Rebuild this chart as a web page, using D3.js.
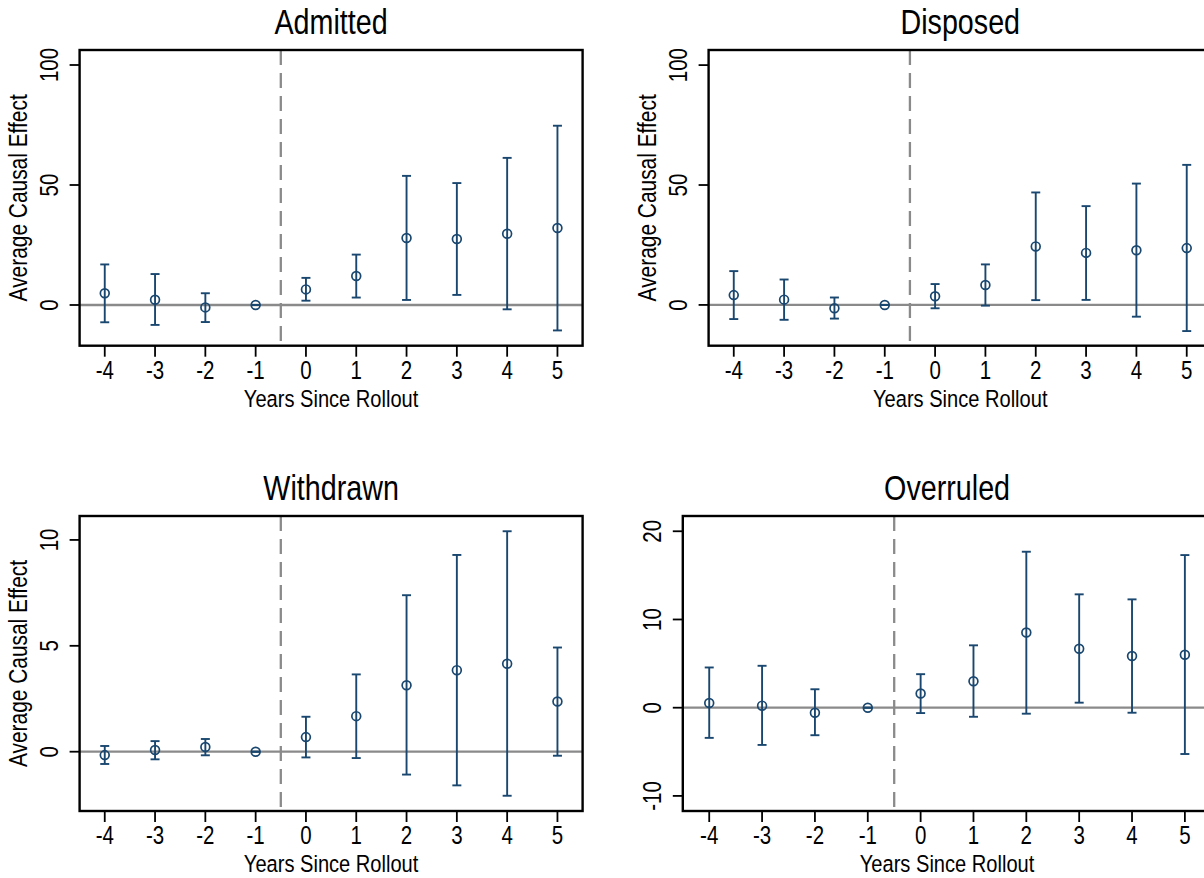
<!DOCTYPE html>
<html>
<head>
<meta charset="utf-8">
<script src="https://cdn.jsdelivr.net/npm/d3@7"></script>
<style>
  html, body { margin: 0; padding: 0; background: #fff; }
  svg { display: block; }
  text { font-family: "Liberation Sans", Arial, Helvetica, sans-serif; fill: #000; }
</style>
</head>
<body>
<svg id="chart" width="1204" height="878"></svg>
<script>
// ---------------- DATA ----------------
const years = [-4, -3, -2, -1, 0, 1, 2, 3, 4, 5];
const xTickLabels = ["-4", "-3", "-2", "-1", "0", "1", "2", "3", "4", "5"];
const xAxisTitle = "Years Since Rollout";
const yAxisTitle = "Average Causal Effect";
const rolloutLine = -0.5;

const titles = ["Admitted", "Disposed", "Withdrawn", "Overruled"];

const admittedEst = [4.9, 2.2, -1.0, 0, 6.5, 12.1, 27.9, 27.5, 29.7, 32.1];
const admittedLo  = [-7.2, -8.3, -7.1, 0, 1.8, 3.1, 2.1, 4.2, -1.8, -10.6];
const admittedHi  = [16.9, 12.9, 4.9, 0, 11.3, 21.0, 53.8, 50.8, 61.3, 74.7];

const disposedEst = [4.1, 2.2, -1.4, 0, 3.6, 8.3, 24.4, 21.7, 22.8, 23.7];
const disposedLo  = [-5.9, -6.2, -5.7, 0, -1.4, -0.3, 2.0, 2.1, -4.9, -10.9];
const disposedHi  = [14.1, 10.6, 3.1, 0, 8.7, 16.9, 46.9, 41.2, 50.6, 58.4];

const withdrawnEst = [-0.16, 0.08, 0.22, 0, 0.69, 1.68, 3.14, 3.85, 4.15, 2.37];
const withdrawnLo  = [-0.58, -0.36, -0.17, 0, -0.27, -0.30, -1.08, -1.59, -2.08, -0.19];
const withdrawnHi  = [0.27, 0.50, 0.60, 0, 1.65, 3.65, 7.39, 9.29, 10.41, 4.92];

const overruledEst = [0.53, 0.23, -0.57, 0, 1.60, 3.00, 8.52, 6.69, 5.86, 6.00];
const overruledLo  = [-3.42, -4.22, -3.12, 0, -0.61, -1.03, -0.68, 0.57, -0.57, -5.25];
const overruledHi  = [4.56, 4.75, 2.09, 0, 3.80, 7.07, 17.68, 12.85, 12.28, 17.30];

const admittedYTicks  = [0, 50, 100];
const disposedYTicks  = [0, 50, 100];
const withdrawnYTicks = [0, 5, 10];
const overruledYTicks = [-10, 0, 10, 20];

// ---------------- LAYOUT ----------------
const COLOR = "#1a476f";
const GRAY = "#8a8a8a";
const SX = 0.82; // condensed text

const panels = [
  { title: titles[0], est: admittedEst, lo: admittedLo, hi: admittedHi, yTicks: admittedYTicks,
    yDomain: [-16.96, 106.25], left: 79.6, width: 503, top: 50, bottom: 345.7, yLabel: true },
  { title: titles[1], est: disposedEst, lo: disposedLo, hi: disposedHi, yTicks: disposedYTicks,
    yDomain: [-17.0, 106.3], left: 708.6, width: 503.3, top: 50, bottom: 345.7, yLabel: true },
  { title: titles[2], est: withdrawnEst, lo: withdrawnLo, hi: withdrawnHi, yTicks: withdrawnYTicks,
    yDomain: [-2.80, 11.13], left: 79.6, width: 503, top: 516, bottom: 811, yLabel: true },
  { title: titles[3], est: overruledEst, lo: overruledLo, hi: overruledHi, yTicks: overruledYTicks,
    yDomain: [-11.71, 21.73], left: 682.8, width: 528.5, top: 516, bottom: 811, yLabel: false }
];

const svg = d3.select("#chart");

function addText(g, x, y, rot, str, size, anchor) {
  return g.append("text")
    .attr("transform", `translate(${x},${y}) rotate(${rot}) scale(${SX},1)`)
    .attr("text-anchor", anchor || "middle")
    .style("font-size", size + "px")
    .text(str);
}

panels.forEach(p => {
  const g = svg.append("g");
  const x = d3.scaleLinear().domain([-4.5, 5.5]).range([p.left, p.left + p.width]);
  const y = d3.scaleLinear().domain(p.yDomain).range([p.bottom, p.top]);

  // zero line
  g.append("line")
    .attr("x1", x.range()[0]).attr("x2", x.range()[1])
    .attr("y1", y(0)).attr("y2", y(0))
    .attr("stroke", GRAY).attr("stroke-width", 2.3);

  // rollout dashed line
  g.append("line")
    .attr("x1", x(rolloutLine)).attr("x2", x(rolloutLine))
    .attr("y1", p.top).attr("y2", p.bottom)
    .attr("stroke", GRAY).attr("stroke-width", 2.3)
    .attr("stroke-dasharray", "15,8");

  const data = years.map((yr, i) => ({ yr, est: p.est[i], lo: p.lo[i], hi: p.hi[i] }));

  // error bars
  const eb = g.append("g").attr("stroke", COLOR).attr("stroke-width", 1.9).attr("fill", "none");
  data.forEach(d => {
    if (d.hi !== d.lo) {
      eb.append("line").attr("x1", x(d.yr)).attr("x2", x(d.yr)).attr("y1", y(d.lo)).attr("y2", y(d.hi));
    }
    eb.append("line").attr("x1", x(d.yr) - 4.5).attr("x2", x(d.yr) + 4.5).attr("y1", y(d.lo)).attr("y2", y(d.lo));
    eb.append("line").attr("x1", x(d.yr) - 4.5).attr("x2", x(d.yr) + 4.5).attr("y1", y(d.hi)).attr("y2", y(d.hi));
  });

  // points
  g.selectAll("circle.pt").data(data).enter().append("circle")
    .attr("class", "pt")
    .attr("cx", d => x(d.yr)).attr("cy", d => y(d.est)).attr("r", 4.4)
    .attr("fill", "none").attr("stroke", COLOR).attr("stroke-width", 1.7);

  // box
  g.append("rect")
    .attr("x", p.left).attr("y", p.top)
    .attr("width", p.width).attr("height", p.bottom - p.top)
    .attr("fill", "none").attr("stroke", "#000").attr("stroke-width", 2.4);

  // x ticks
  years.forEach((yr, i) => {
    g.append("line").attr("x1", x(yr)).attr("x2", x(yr))
      .attr("y1", p.bottom).attr("y2", p.bottom + 11)
      .attr("stroke", "#000").attr("stroke-width", 1.8);
    addText(g, x(yr), p.bottom + 32.8, 0, xTickLabels[i], 25, "middle");
  });

  // y ticks
  p.yTicks.forEach(t => {
    g.append("line").attr("x1", p.left - 10).attr("x2", p.left)
      .attr("y1", y(t)).attr("y2", y(t))
      .attr("stroke", "#000").attr("stroke-width", 1.8);
    addText(g, p.left - 22, y(t), -90, String(t), 25, "middle");
  });

  // titles
  const cx = x(0.5);
  addText(g, cx, p.top - 15.7, 0, p.title, 35, "middle");
  addText(g, cx, p.bottom + 61, 0, xAxisTitle, 24.5, "middle");
  if (p.yLabel) {
    addText(g, p.left - 52.5, (p.top + p.bottom) / 2, -90, yAxisTitle, 25.5, "middle");
  }
});
</script>
</body>
</html>
